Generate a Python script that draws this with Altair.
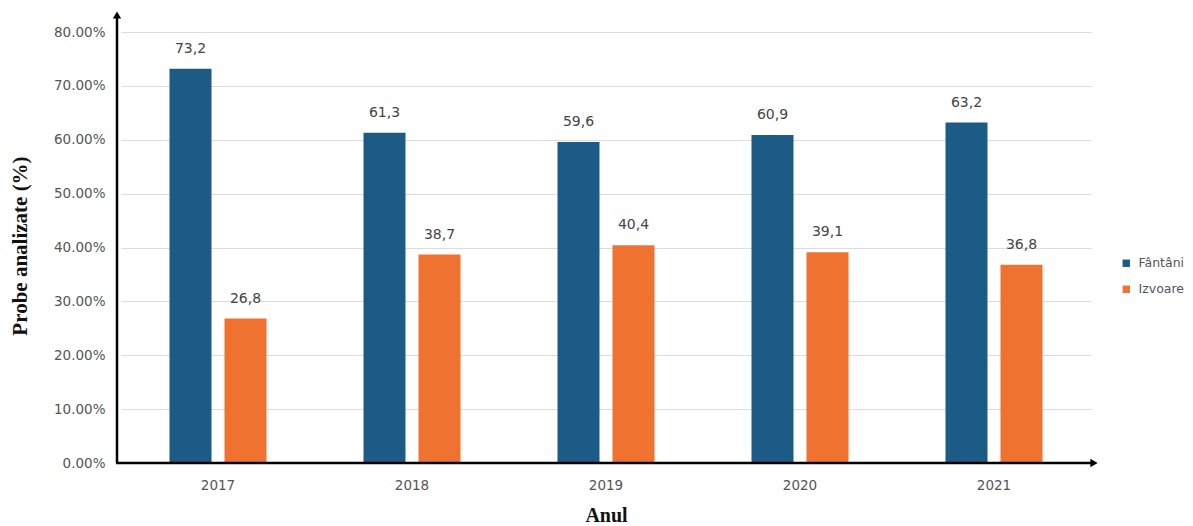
import altair as alt
import pandas as pd

# Share of analysed samples per year, by water source (%)
years = ["2017", "2018", "2019", "2020", "2021"]
fantani = [73.2, 61.3, 59.6, 60.9, 63.2]
izvoare = [26.8, 38.7, 40.4, 39.1, 36.8]
series = ["Fântâni", "Izvoare"]
colors = ["#1b5b86", "#ef7230"]
y_ticks = [0, 0.1, 0.2, 0.3, 0.4, 0.5, 0.6, 0.7, 0.8]

rows = []
for i, y in enumerate(years):
    for name, vals in zip(series, [fantani, izvoare]):
        v = vals[i]
        rows.append({"Anul": y, "Sursa": name, "val": v / 100,
                     "label": f"{v:.1f}".replace(".", ",")})
df = pd.DataFrame(rows)

W, H = 970, 431
SANS = "DejaVu Sans"
SERIF = "Liberation Serif"

x_enc = alt.X("Anul:N", title="Anul", sort=years,
              scale=alt.Scale(paddingInner=0.5, paddingOuter=0.25),
              axis=alt.Axis(labelAngle=0, domain=False, ticks=False, labelPadding=15,
                            labelFontSize=13.5, labelColor="#555555", labelFont=SANS,
                            titleFont=SERIF, titleFontSize=20, titleFontWeight="bold",
                            titleColor="#111111", titleBaseline="alphabetic", titleY=58))
y_enc = alt.Y("val:Q", title="Probe analizate (%)",
              scale=alt.Scale(domain=[0, 0.8], nice=False),
              axis=alt.Axis(format=".2%", values=y_ticks, domain=False, ticks=False,
                            labelPadding=16, labelFontSize=13.5, labelColor="#555555",
                            labelFont=SANS,
                            gridColor="#dcdcdc", gridWidth=1,
                            titleFont=SERIF, titleFontSize=21, titleFontWeight="bold",
                            titleColor="#111111", titleX=-101, titleY=H / 2 - 2,
                            titleAngle=270, titleAlign="center", titleBaseline="middle"))
off = alt.XOffset("Sursa:N", sort=series,
                  scale=alt.Scale(paddingInner=0.236, paddingOuter=0))
color = alt.Color("Sursa:N", sort=series,
                  scale=alt.Scale(domain=series, range=colors),
                  legend=alt.Legend(title=None, orient="none", legendX=999, legendY=225,
                                    symbolType="square", symbolSize=55, symbolStrokeWidth=0,
                                    labelFontSize=12.5, labelColor="#555555",
                                    labelFont=SANS, rowPadding=13, labelOffset=6))

base = alt.Chart(df)
bars = base.mark_bar().encode(x=x_enc, y=y_enc, xOffset=off, color=color)
labels = base.mark_text(dy=-20, fontSize=14, color="#444444", font=SANS).encode(
    x=alt.X("Anul:N", sort=years), y="val:Q", xOffset=off, text="label:N")

# Axis lines with arrow heads
axis_df = pd.DataFrame({"k": [0]})
ax = alt.Chart(axis_df)
y_line = ax.mark_rule(color="#000000", strokeWidth=2.5).encode(
    x=alt.value(-4), y=alt.value(-16), y2=alt.value(H))
x_line = ax.mark_rule(color="#000000", strokeWidth=2.5).encode(
    x=alt.value(-5), x2=alt.value(W + 2), y=alt.value(H))
y_arrow = ax.mark_point(shape="triangle-up", filled=True, size=70, color="#000000", opacity=1).encode(
    x=alt.value(-4), y=alt.value(-17))
x_arrow = ax.mark_point(shape="triangle-right", filled=True, size=70, color="#000000", opacity=1).encode(
    x=alt.value(W + 3), y=alt.value(H))

chart = alt.layer(bars, labels, y_line, x_line, y_arrow, x_arrow).properties(
    width=W, height=H,
    autosize=alt.AutoSizeParams(type="none"),
    padding={"left": 121, "top": 32, "right": 102, "bottom": 63},
    background="white",
).configure_view(stroke=None)

chart.save("out.html", embed_options={"renderer": "svg", "actions": False})
